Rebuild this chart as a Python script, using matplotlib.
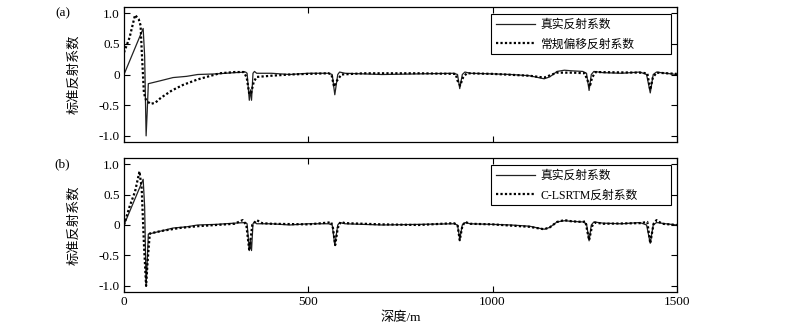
import matplotlib
matplotlib.use("Agg")
import matplotlib.pyplot as plt
from matplotlib.patches import Rectangle

plt.rcParams['font.family'] = ['Liberation Serif', 'Noto Sans CJK SC']
plt.rcParams['axes.unicode_minus'] = False

# True reflection coefficient (depth in m, normalized value)
true_depth = [0, 52, 56, 60, 63, 66, 100, 133, 170, 200, 250, 300, 330, 334, 340, 343, 346,
              350, 354, 360, 400, 450, 500, 555, 565, 572, 580, 585, 600, 700, 800, 895, 905,
              911, 918, 925, 940, 1000, 1050, 1100, 1140, 1155, 1175, 1195, 1215, 1245, 1255,
              1262, 1268, 1275, 1300, 1350, 1400, 1418, 1428, 1436, 1445, 1470, 1500]
true_refl = [0.0, 0.75, 0.3, -1.0, -0.6, -0.15, -0.10, -0.05, -0.03, 0.0, 0.01, 0.03, 0.04,
             0.02, -0.42, -0.25, -0.42, 0.02, 0.05, 0.02, 0.02, 0.0, 0.02, 0.02, 0.0, -0.33,
             0.0, 0.04, 0.02, 0.0, 0.01, 0.02, 0.0, -0.23, 0.0, 0.04, 0.02, 0.01, 0.0, -0.02,
             -0.07, -0.04, 0.05, 0.07, 0.06, 0.05, 0.02, -0.26, 0.0, 0.05, 0.03, 0.02, 0.04,
             0.0, -0.3, 0.0, 0.04, 0.02, 0.0]

# Conventional migration result
rtm_depth = [0, 15, 30, 40, 45, 48, 54, 60, 72, 85, 100, 130, 160, 200, 230, 260, 300, 325,
             333, 340, 345, 352, 360, 400, 450, 500, 555, 563, 570, 578, 590, 650, 800, 900,
             905, 912, 920, 930, 1000, 1100, 1140, 1175, 1220, 1250, 1258, 1264, 1270, 1280,
             1400, 1420, 1428, 1435, 1445, 1500]
rtm_refl = [0.36, 0.6, 0.97, 0.9, 0.8, 0.4, -0.3, -0.42, -0.48, -0.46, -0.38, -0.26, -0.17,
            -0.08, -0.03, 0.02, 0.04, 0.04, -0.05, -0.32, -0.3, -0.12, -0.04, -0.02, 0.0,
            0.01, 0.02, 0.0, -0.2, -0.1, 0.0, 0.02, 0.02, 0.01, -0.1, -0.18, -0.05, 0.02,
            0.01, -0.02, -0.05, 0.03, 0.03, 0.02, -0.1, -0.2, -0.05, 0.04, 0.03, 0.02, -0.25,
            -0.05, 0.03, 0.01]

# C-LSRTM result
lsrtm_depth = [0, 15, 30, 42, 48, 54, 60, 64, 70, 100, 150, 200, 250, 300, 322, 332, 340,
               348, 360, 375, 400, 500, 555, 562, 567, 573, 580, 588, 600, 700, 800, 895, 905,
               911, 918, 925, 940, 1000, 1100, 1140, 1155, 1175, 1195, 1215, 1245, 1252, 1262,
               1270, 1278, 1300, 1400, 1420, 1428, 1437, 1445, 1460, 1500]
lsrtm_refl = [0.0, 0.3, 0.55, 0.88, 0.6, -0.3, -1.0, -0.6, -0.14, -0.10, -0.05, -0.02, 0.0,
              0.02, 0.08, 0.0, -0.42, 0.0, 0.08, 0.03, 0.02, 0.01, 0.04, 0.05, -0.05, -0.33,
              -0.05, 0.05, 0.03, 0.01, 0.0, 0.03, 0.0, -0.25, -0.02, 0.05, 0.02, 0.01, -0.03,
              -0.07, -0.04, 0.05, 0.08, 0.06, 0.05, 0.06, -0.25, -0.02, 0.04, 0.02, 0.03, 0.05,
              -0.3, 0.02, 0.08, 0.02, 0.0]

xticks = [0, 500, 1000, 1500]
yticks = [-1.0, -0.5, 0, 0.5, 1.0]
ytick_labels = ['-1.0', '-0.5', '0', '0.5', '1.0']

fig = plt.figure(figsize=(8, 3.29), dpi=100)
ax_a = fig.add_axes([0.155, 0.5684, 0.691, 0.4103])
ax_b = fig.add_axes([0.155, 0.1125, 0.691, 0.4073])

panels = [
    (ax_a, rtm_depth, rtm_refl, '常规偏移反射系数', '(a)', False),
    (ax_b, lsrtm_depth, lsrtm_refl, 'C-LSRTM反射系数', '(b)', True),
]

for ax, d, r, name, tag, show_x in panels:
    ax.plot(true_depth, true_refl, color='#222222', lw=0.9, label='真实反射系数')
    ax.plot(d, r, color='black', lw=1.6, linestyle=(0, (1, 1)), label=name)
    ax.set_xlim(0, 1500)
    ax.set_ylim(-1.1, 1.1)
    ax.set_xticks(xticks)
    ax.set_yticks(yticks)
    ax.set_yticklabels(ytick_labels)
    ax.tick_params(direction='in', top=True, right=True, length=4, width=0.8,
                   labelsize=9.5, pad=3)
    if not show_x:
        ax.tick_params(labelbottom=False)
    for s in ax.spines.values():
        s.set_linewidth(0.9)
    ax.set_ylabel('标准反射系数', fontsize=9.5, labelpad=13)

    # legend box with a fixed outline, entries placed inside it
    box = Rectangle((0.6637, 0.652), 0.3255, 0.296, transform=ax.transAxes,
                    facecolor='white', edgecolor='black', lw=0.8, zorder=4)
    ax.add_patch(box)
    leg = ax.legend(loc='upper left', bbox_to_anchor=(0.6735, 0.91), fontsize=8.5,
                    frameon=False, handlelength=3.3, borderpad=0, borderaxespad=0,
                    labelspacing=0.62, handletextpad=0.45)
    leg.set_zorder(5)
    ax.text(-0.111, 1.0, tag, transform=ax.transAxes, fontsize=9.5, va='top', ha='center')

ax_b.set_xlabel('深度/m', fontsize=9.5, labelpad=2)

fig.savefig('out.png', dpi=100)
